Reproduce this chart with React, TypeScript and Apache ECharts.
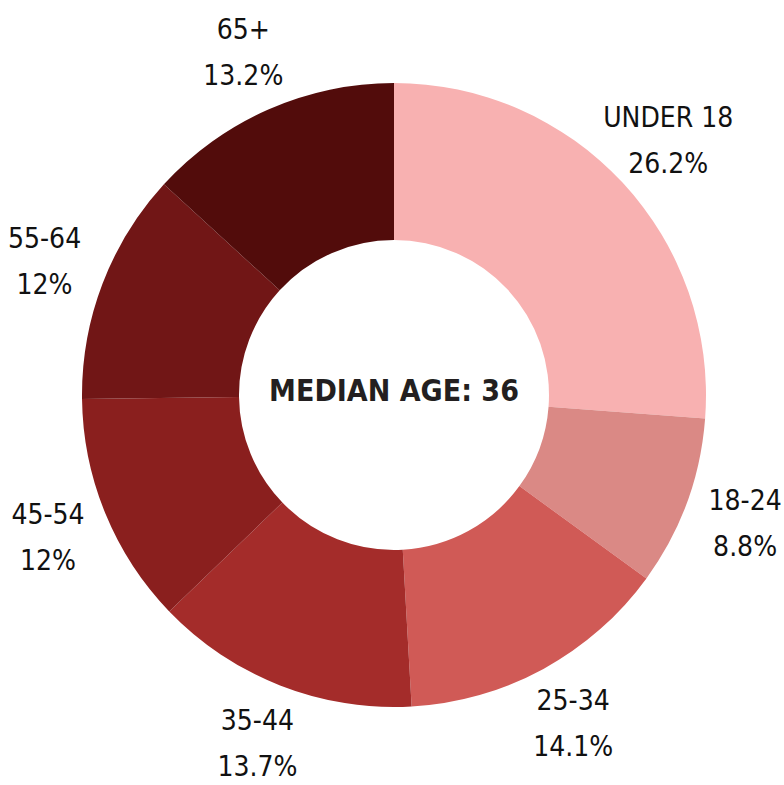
import React, { useEffect, useRef } from "react";
import * as echarts from "echarts";

const categories = ["UNDER 18", "18-24", "25-34", "35-44", "45-54", "55-64", "65+"];
const shares = [26.2, 8.8, 14.1, 13.7, 12, 12, 13.2];
const colors = ["#f8b1b1", "#da8985", "#d05a56", "#a42c2a", "#8a1f1e", "#711616", "#520c0b"];
const centerText = "MEDIAN AGE: 36";

const FONT = "'DejaVu Sans Condensed', 'Liberation Sans Narrow', sans-serif";

export default function App() {
  const ref = useRef<HTMLDivElement>(null);
  useEffect(() => {
    if (!ref.current) return;
    const chart = echarts.init(ref.current, null, { renderer: "svg" });
    const data = categories.map((c, i) => ({ name: c, value: shares[i], itemStyle: { color: colors[i] } }));
    const labelData = categories.map((c, i) => ({ name: c, value: shares[i] }));
    chart.setOption({
      animation: false,
      backgroundColor: "#ffffff",
      series: [
        {
          type: "pie",
          center: [394, 395],
          radius: [155, 312],
          startAngle: 90,
          clockwise: true,
          silent: true,
          label: { show: false },
          labelLine: { show: false },
          itemStyle: { borderWidth: 0 },
          data,
        },
        {
          type: "pie",
          center: [394, 395],
          radius: [0, 742],
          startAngle: 90,
          clockwise: true,
          silent: true,
          z: 5,
          itemStyle: { color: "transparent", borderWidth: 0 },
          label: {
            show: true,
            position: "inside",
            formatter: "{b}\n{c}%",
            color: "#111111",
            fontFamily: FONT,
            fontSize: 28,
            lineHeight: 46,
            align: "center",
          },
          labelLine: { show: false },
          data: labelData,
        },
      ],
      graphic: [
        {
          type: "text",
          x: 394,
          y: 390,
          style: {
            text: centerText,
            fill: "#231f20",
            font: `bold 30px ${FONT}`,
            textAlign: "center",
            textVerticalAlign: "middle",
          },
          z: 10,
        },
      ],
    });
    return () => chart.dispose();
  }, []);
  return (
    <div
      ref={ref}
      style={{ position: "fixed", left: 0, top: 0, width: 784, height: 785 }}
    />
  );
}
